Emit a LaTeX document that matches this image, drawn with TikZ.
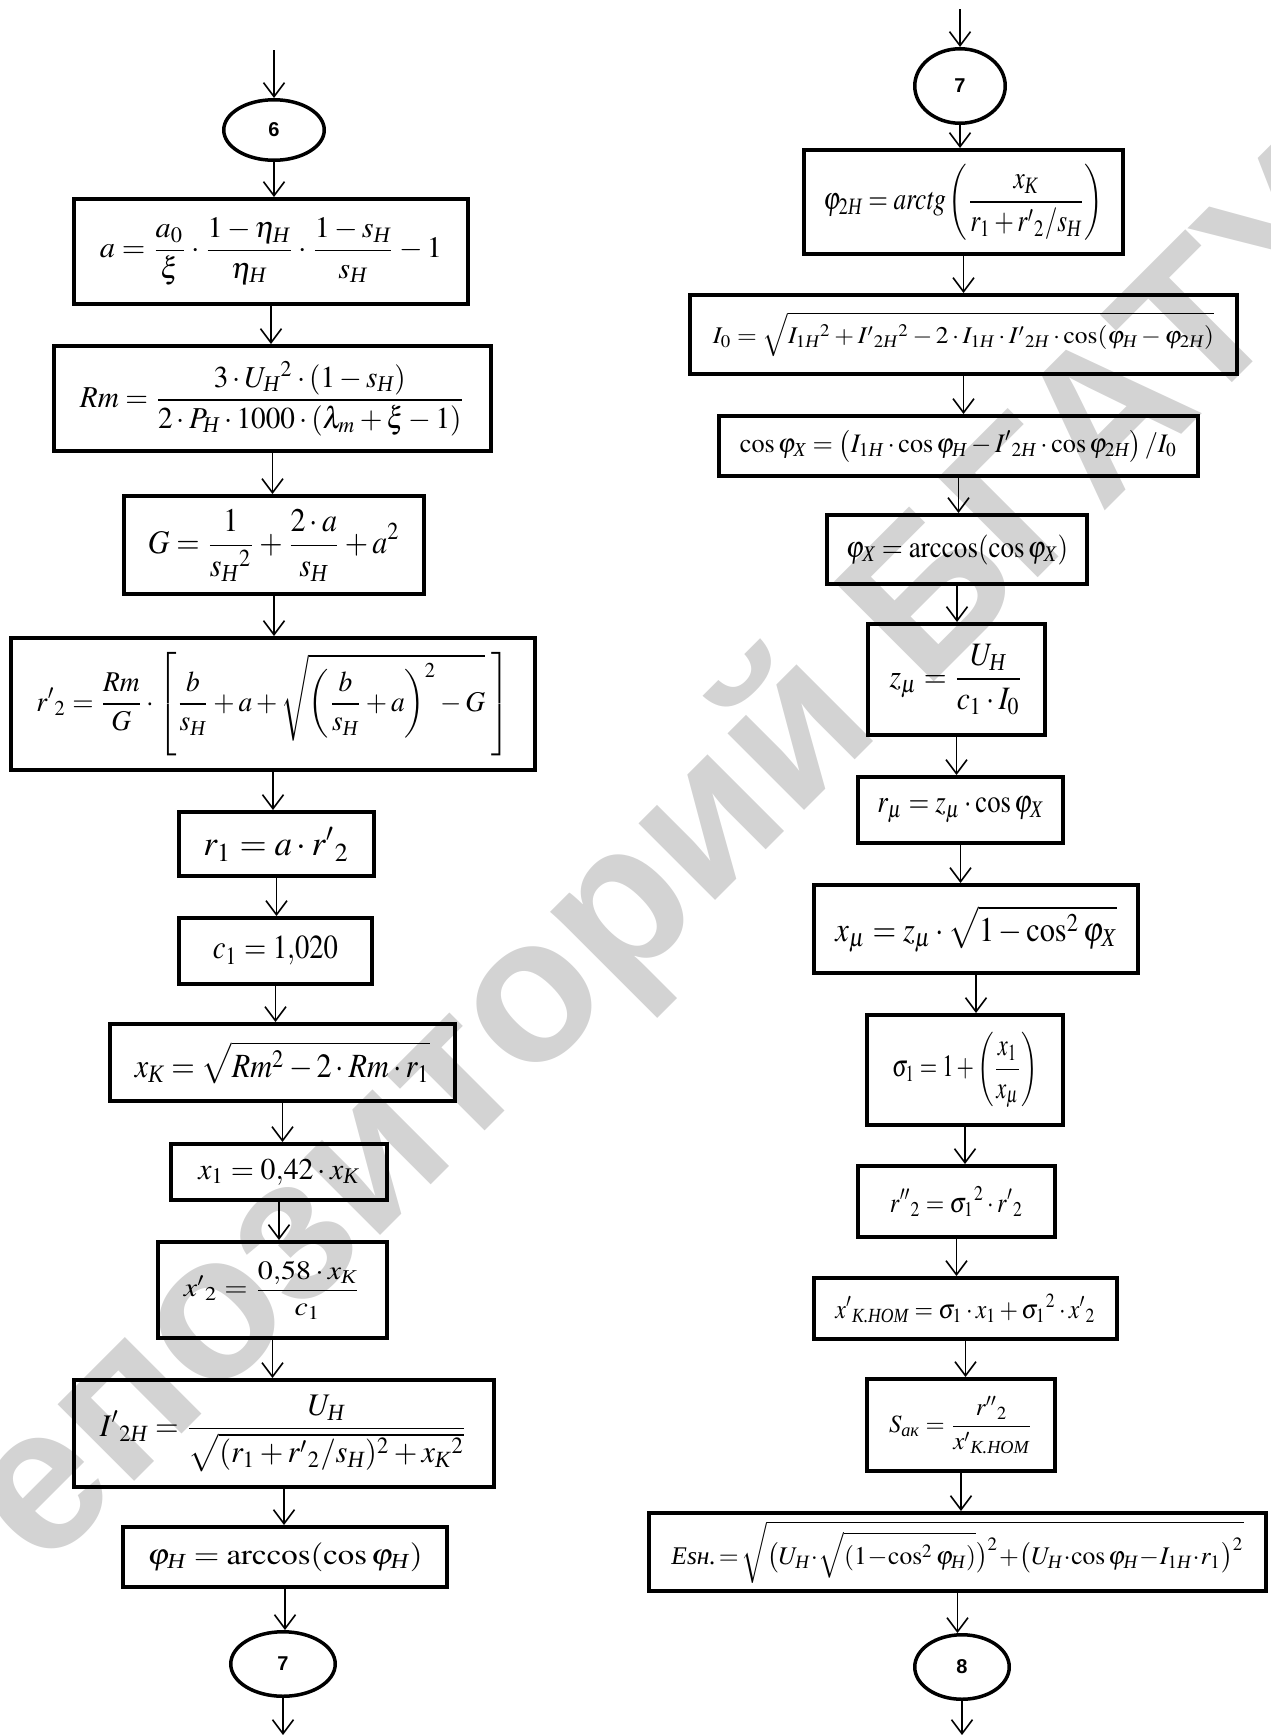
\documentclass[tikz,border=0pt]{standalone}
\usepackage{amsmath}
\usepackage{mathptmx}
\usepackage{graphicx}
\usepackage{fontspec}
\setmainfont{Liberation Serif}
\newfontfamily\sansf{Liberation Sans}
\usetikzlibrary{shapes.geometric,arrows.meta}
\definecolor{wm}{RGB}{211,211,211}
\newcommand\CH{\text{\itshape Н}}
\newcommand\CK{\text{\itshape К}}
\newcommand\CX{\text{\itshape Х}}
\newcommand\fm[3]{\resizebox*{#1pt}{#2pt}{$\displaystyle #3$}}
\tikzset{
 box/.style={draw,line width=4pt,inner sep=0pt,rectangle},
 conn/.style={draw,ellipse,line width=3.5pt,inner sep=0pt,font=\sansf\bfseries\fontsize{20}{24}\selectfont},
 arr/.style={line width=1.6pt,-{Straight Barb[length=14pt,width=21pt]}},
}
\newcommand\bx[8]{\node[box,minimum width={#4-#2-4},minimum height={#5-#3-4}] (#1) at ({(#2+#4)/2},{(#3+#5)/2}) {\fm{#6}{#7}{#8}};}
\newcommand\el[6]{\node[conn,minimum width={2*#4-3.5},minimum height={2*#5-3.5}] (#1) at (#2,#3) {#6};}
\begin{document}
\begin{tikzpicture}[x=1pt,y=-1pt]
\useasboundingbox (0,0) rectangle (1271,1735);
% watermark
\begin{scope}
\clip (0,0) rectangle (1271,1735);
\begin{scope}[shift={(625,913)}]
\node[text=wm,font=\sansf\bfseries\fontsize{205}{205}\selectfont,rotate=45,inner sep=0pt] (wmk) at (0,0) {Репозиторий БГАТУ};
\end{scope}
\end{scope}
% left column
\el{e6}{274}{130}{52}{32}{6}
\bx{b1}{72}{197}{470}{306}{342}{67}{a=\frac{a_0}{\xi}\cdot\frac{1-\eta_{\CH}}{\eta_{\CH}}\cdot\frac{1-s_{\CH}}{s_{\CH}}-1}
\bx{b2}{52}{344}{493}{453}{385}{75}{Rm=\frac{3\cdot U_{\CH}{}^{2}\cdot(1-s_{\CH})}{2\cdot P_{\CH}\cdot1000\cdot\left(\lambda_m+\xi-1\right)}}
\bx{b3}{122}{494}{426}{596}{252}{72}{G=\frac{1}{s_{\CH}{}^{2}}+\frac{2\cdot a}{s_{\CH}}+a^{2}}
\bx{b4}{9}{636}{537}{772}{473}{103}{r'{}_{2}=\frac{Rm}{G}\cdot\left[\frac{b}{s_{\CH}}+a+\sqrt{\left(\frac{b}{s_{\CH}}+a\right)^{2}-G}\;\right]}
\bx{b5}{177}{810}{376}{878}{146}{34}{r_1=a\cdot r'{}_2}
\bx{b6}{177}{916}{374}{986}{125}{29}{c_1=1{,}020}
\bx{b7}{108}{1022}{457}{1103}{295}{42}{x_{\CK}=\sqrt{Rm^{2}-2\cdot Rm\cdot r_1}}
\bx{b8}{169}{1142}{389}{1202}{161}{26}{x_1=0{,}42\cdot x_{\CK}}
\bx{b9}{156}{1240}{389}{1340}{177}{58}{x'{}_2=\frac{0{,}58\cdot x_{\CK}}{c_1}}
\bx{b10}{72}{1378}{496}{1489}{368}{77}{I'{}_{2\CH}=\frac{U_{\CH}}{\sqrt{(r_1+r'{}_2/s_{\CH})^{2}+x_{\CK}{}^{2}}}}
\bx{b11}{121}{1525}{449}{1589}{275}{29}{\varphi_{\CH}=\arccos(\cos\varphi_{\CH})}
\el{e7}{283}{1664}{54}{34}{7}
\coordinate (tl) at (274,50);
\coordinate (bl) at (283,1735);
\draw[arr] (tl) -- (tl |- e6.north);
\foreach \a/\b in {e6/b1,b1/b2,b2/b3,b3/b4,b4/b5,b5/b6,b6/b7,b7/b8,b8/b9,b9/b10,b10/b11,b11/e7}
  \draw[arr] (\a.south) -- (\a.south |- \b.north);
\draw[arr] (e7.south) -- (e7.south |- bl);
% right column
\el{r0}{960}{86}{47}{39}{7}
\bx{r1}{802}{148}{1125}{256}{280}{76}{\varphi_{2\CH}=\mathit{arctg}\left(\frac{x_{\CK}}{r_1+r'{}_2/s_{\CH}}\right)}
\bx{r2}{688}{293}{1239}{376}{501}{44}{I_0=\sqrt{I_{1\CH}{}^{2}+I'{}_{2\CH}{}^{2}-2\cdot I_{1\CH}\cdot I'{}_{2\CH}\cdot\cos(\varphi_{\CH}-\varphi_{2\CH})}}
\bx{r3}{717}{414}{1200}{478}{437}{32}{\cos\varphi_{\CX}=\left(I_{1\CH}\cdot\cos\varphi_{\CH}-I'{}_{2\CH}\cdot\cos\varphi_{2\CH}\right)/I_0}
\bx{r4}{825}{513}{1089}{586}{222}{30}{\varphi_{\CX}=\arccos(\cos\varphi_{\CX})}
\bx{r5}{866}{622}{1047}{737}{134}{71}{z_\mu=\frac{U_{\CH}}{c_1\cdot I_0}}
\bx{r6}{856}{775}{1065}{845}{166}{26}{r_\mu=z_\mu\cdot\cos\varphi_{\CX}}
\bx{r7}{812}{883}{1140}{975}{281}{46}{x_\mu=z_\mu\cdot\sqrt{1-\cos^{2}\varphi_{\CX}}}
\bx{r8}{865}{1013}{1065}{1127}{146}{76}{\sigma_1=1+\left(\frac{x_1}{x_\mu}\right)}
\bx{r9}{856}{1164}{1057}{1239}{133}{30}{r''{}_2=\sigma_1{}^{2}\cdot r'{}_2}
\bx{r10}{812}{1276}{1119}{1341}{260}{29}{x'{}_{\text{\itshape К.НОМ}}=\sigma_1\cdot x_1+\sigma_1{}^{2}\cdot x'{}_2}
\bx{r11}{865}{1377}{1057}{1473}{144}{57}{S_{\text{\itshape ак}}=\frac{r''{}_2}{x'{}_{\text{\itshape К.НОМ}}}}
\bx{r12}{647}{1511}{1268}{1593}{572}{62}{\text{\itshape Esн.}\!=\!\sqrt{\bigl(U_{\CH}\!\cdot\!\sqrt{(1\!-\!\cos^{2}\varphi_{\CH})}\bigr)^{2}\!+\!\bigl(U_{\CH}\!\cdot\!\cos\varphi_{\CH}\!-\!I_{1\CH}\!\cdot\! r_1\bigr)^{2}}}
\el{r13}{962}{1667}{49}{34}{8}
\coordinate (tr) at (960,9);
\coordinate (br) at (962,1735);
\draw[arr] (tr) -- (tr |- r0.north);
\foreach \a/\b in {r0/r1,r1/r2,r2/r3,r3/r4,r4/r5,r5/r6,r6/r7,r7/r8,r8/r9,r9/r10,r10/r11,r11/r12,r12/r13}
  \draw[arr] (\a.south) -- (\a.south |- \b.north);
\draw[arr] (r13.south) -- (r13.south |- br);
\end{tikzpicture}
\end{document}
